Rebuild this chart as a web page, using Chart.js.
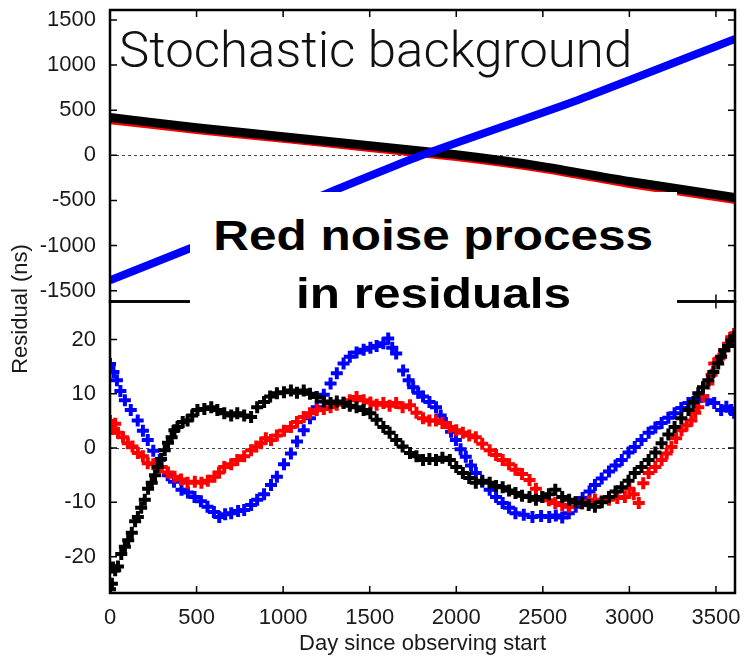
<!DOCTYPE html>
<html>
<head>
<meta charset="utf-8">
<script src="https://cdn.jsdelivr.net/npm/chart.js@4.4.1/dist/chart.umd.min.js"></script>
<style>
  body { margin: 0; background: #fff; }
  #wrap { position: relative; width: 745px; height: 657px; }
  #stoch {
    position: absolute; left: 119px; top: 25px;
    font-family: Roboto, "Liberation Sans", sans-serif; font-weight: 300;
    font-size: 50px; line-height: 1; color: #111; white-space: nowrap;
    transform: scaleX(1.02); transform-origin: left top;
  }
  #rednoise {
    position: absolute; left: 190px; top: 192px; width: 487px; height: 106px;
    padding-top: 14px;
    background: #fff; text-align: center;
    font-family: "Liberation Sans", Arial, sans-serif; font-weight: bold;
    font-size: 43px; line-height: 58px; color: #000;
  }
  #rednoise span { display: inline-block; transform: scaleX(1.15); }
</style>
</head>
<body>
<div id="wrap">
  <canvas id="residChart" width="745" height="657"></canvas>
  <div id="stoch">Stochastic background</div>
  <div id="rednoise"><span>Red noise process</span><br><span>in residuals</span></div>
</div>
<script>
// upper panel: stochastic background, smooth curves (ns)
const topDays = [0, 500, 1000, 1500, 2000, 2500, 3000, 3610];
const topBlack = [420, 305, 205, 105, 5, -125, -290, -467];
const topRed = [390, 280, 182, 82, -20, -150, -318, -495];
const blueDays = [0, 1000, 1800, 2700, 3610];
const topBlue = [-1385, -620, 0, 611, 1289];

// lower panel: red noise residuals (ns)
const lowBlackX = [0, 11, 17, 30, 46, 65, 86, 105, 126, 145, 161, 180, 201, 220, 241, 260, 276, 295, 316, 335, 356, 372, 390, 420, 448, 475, 505, 545, 585, 620, 660, 700, 735, 775, 815, 850, 890, 925, 964, 1005, 1045, 1080, 1119, 1155, 1194, 1235, 1274, 1310, 1349, 1385, 1424, 1465, 1504, 1540, 1579, 1615, 1653, 1690, 1733, 1770, 1808, 1845, 1883, 1920, 1963, 2000, 2038, 2075, 2113, 2150, 2193, 2230, 2268, 2305, 2342, 2380, 2423, 2460, 2497, 2535, 2572, 2612, 2652, 2690, 2727, 2765, 2801, 2840, 2882, 2920, 2956, 2995, 3031, 3070, 3111, 3150, 3186, 3225, 3261, 3300, 3341, 3370, 3398, 3425, 3456, 3485, 3513, 3530, 3548, 3570, 3588, 3605];
const lowBlackY = [-26, -25, -22, -22.5, -21.8, -19.5, -18.2, -17, -15.6, -13.5, -12.7, -11, -9.5, -7.5, -6.4, -5, -3.5, -2, -0.4, 1, 2, 3.3, 3.9, 4.8, 5.1, 6, 7, 7.2, 7.5, 7, 6.4, 6, 6.4, 6, 5.7, 7.5, 8.5, 9.5, 10.1, 10.3, 10.6, 10.2, 10.6, 10, 9.4, 8.6, 8.3, 8.6, 8.3, 7.8, 7.5, 7, 6.4, 5.2, 3.9, 2.8, 1.5, 0.3, -0.9, -1.5, -2.2, -2, -2.2, -1.8, -2.2, -3.5, -4.6, -5.5, -6.4, -6, -6.4, -7, -7.2, -7.8, -8.3, -8.8, -9, -9.5, -9, -8.5, -7.7, -9, -9.5, -10, -10.1, -10.5, -10.8, -10, -9, -8, -7.2, -6, -4.6, -3.5, -2.2, -0.8, 0.9, 2.5, 3.9, 5.5, 7, 8.5, 10.1, 11.2, 12.5, 14, 15.6, 16.8, 18, 18.8, 19.8, 20.5];

const lowRedX = [0, 15, 30, 46, 75, 103, 130, 161, 190, 218, 250, 299, 335, 373, 410, 448, 490, 528, 565, 603, 630, 660, 700, 735, 775, 815, 845, 873, 900, 930, 964, 1005, 1045, 1080, 1119, 1155, 1194, 1235, 1274, 1310, 1349, 1385, 1424, 1465, 1504, 1540, 1579, 1615, 1653, 1690, 1733, 1770, 1808, 1845, 1883, 1920, 1963, 2000, 2038, 2075, 2113, 2150, 2193, 2230, 2268, 2305, 2342, 2380, 2423, 2460, 2497, 2535, 2572, 2612, 2652, 2690, 2727, 2765, 2801, 2840, 2882, 2930, 2974, 3000, 3025, 3054, 3080, 3111, 3150, 3186, 3215, 3243, 3270, 3301, 3330, 3358, 3380, 3398, 3425, 3456, 3475, 3490, 3520, 3548, 3570, 3588, 3605];
const lowRedY = [5, 3.5, 4.5, 2.8, 2, 0.9, 0.3, -0.9, -1.5, -2.8, -3, -3.5, -4.5, -5.3, -5.8, -6.4, -6.2, -6.4, -6, -5.3, -4.5, -3.5, -3, -2.2, -1.5, -0.4, 0.3, 0.9, 1.8, 1.5, 2.3, 3.2, 3.9, 4.8, 5.7, 6.4, 7, 7.2, 7.5, 8, 8.4, 8.8, 9.4, 8.8, 8.4, 8, 8.3, 7.8, 8.3, 7.5, 7.9, 6.5, 5.5, 5.1, 5.1, 4.6, 3.9, 3.3, 2.8, 2.3, 2, 0.8, -0.4, -1.3, -2.2, -3, -4, -4.8, -5.9, -7.5, -9, -9.6, -10.1, -10.5, -10.8, -10, -10.2, -9.8, -9.5, -9.8, -9.5, -9.2, -9, -7.5, -8.5, -10.1, -6.5, -4.6, -3.5, -2.2, -1, 0.2, 1.8, 3.3, 4.2, 5.1, 6.5, 7.5, 9.5, 11.9, 13.5, 15.6, 16.5, 18, 19.2, 20.4, 21];

const lowBlueX = [0, 20, 40, 60, 86, 120, 160, 190, 218, 250, 287, 333, 370, 413, 450, 488, 525, 563, 600, 631, 665, 700, 740, 775, 815, 850, 890, 930, 964, 1005, 1045, 1080, 1119, 1155, 1194, 1235, 1274, 1310, 1349, 1385, 1424, 1465, 1504, 1540, 1579, 1607, 1630, 1653, 1693, 1725, 1751, 1780, 1808, 1845, 1883, 1910, 1940, 1970, 1998, 2025, 2055, 2085, 2113, 2150, 2193, 2230, 2268, 2305, 2342, 2390, 2440, 2490, 2537, 2575, 2612, 2650, 2690, 2730, 2770, 2801, 2840, 2882, 2920, 2956, 2995, 3031, 3070, 3111, 3150, 3186, 3225, 3261, 3300, 3341, 3380, 3416, 3450, 3490, 3530, 3560, 3588, 3605];
const lowBlueY = [15.5, 14, 12.5, 10.5, 8.8, 7, 5.1, 3.2, 1.5, -0.5, -2.2, -5, -6.2, -7.7, -8.2, -9, -9.8, -10.8, -11.8, -12.7, -12.2, -12, -11.6, -11.4, -10.5, -9.5, -8.5, -6.8, -5.3, -3, -1, 1.2, 3.3, 5.5, 7.5, 9.8, 11.9, 13.8, 15.6, 16.8, 17.6, 18.1, 18.5, 18.8, 19.3, 20.2, 18.5, 17.4, 14.3, 12.5, 11.2, 10.2, 9.5, 8.5, 7.5, 6, 4.6, 3, 1.5, -0.2, -1.6, -3.2, -4.6, -6.2, -7.7, -9, -10.1, -11, -12, -12.3, -12.7, -12.5, -12.7, -12.4, -12.8, -12, -10.8, -9.2, -8, -6.8, -5.6, -4.3, -3.2, -2.2, -0.8, 0.2, 1.5, 2.8, 3.8, 4.6, 5.6, 6.4, 7.4, 8.3, 9, 9.4, 8.8, 8.3, 7, 7.6, 7, 6.5];

const upperTicks = [-1500, -1000, -500, 0, 500, 1000, 1500];
const lowerTicks = [-20, -10, 0, 10, 20];
const dayTicks = [0, 500, 1000, 1500, 2000, 2500, 3000, 3500];

const BLUE = '#0000ff', RED = '#ff0000', BLACK = '#000000';
const FONT = '"Liberation Sans", Arial, sans-serif';
const tickFont = { family: FONT, size: 22 };

function pts(xs, ys) {
  return xs.map((x, i) => ({ x: x, y: ys[i] }));
}

function residSet(xs, ys, color) {
  return {
    type: 'scatter',
    data: pts(xs, ys),
    yAxisID: 'y',
    pointStyle: 'cross',
    pointRadius: 6,
    borderWidth: 4,
    borderColor: color,
    backgroundColor: color
  };
}

function curveSet(xs, ys, color, width) {
  return {
    type: 'line',
    data: pts(xs, ys),
    yAxisID: 'y2',
    borderColor: color,
    borderWidth: width,
    pointRadius: 0,
    tension: 0.2,
    fill: false
  };
}

// fixed tick positions from the tick arrays
const setTicks = list => scale => {
  scale.ticks = list.map(v => ({ value: v }));
};

// no extra room for overhanging labels, keeps the plot frame fixed
const noPad = size => scale => {
  if (scale.isHorizontal()) scale.height = size;
  else scale.width = size;
  scale.paddingLeft = 0;
  scale.paddingRight = 0;
  scale.paddingTop = 0;
  scale.paddingBottom = 0;
};

// frame, inward ticks on all sides, zero lines and y title
const framePlugin = {
  id: 'frame',
  beforeDatasetsDraw(chart) {
    const { ctx, chartArea, scales } = chart;
    ctx.save();
    ctx.strokeStyle = '#444';
    ctx.lineWidth = 1;
    ctx.setLineDash([3, 3]);
    [scales.y, scales.y2].forEach(s => {
      const py = Math.round(s.getPixelForValue(0)) + 0.5;
      ctx.beginPath();
      ctx.moveTo(chartArea.left, py);
      ctx.lineTo(chartArea.right, py);
      ctx.stroke();
    });
    ctx.restore();
  },
  afterDatasetsDraw(chart) {
    const { ctx, chartArea, scales } = chart;
    const L = chartArea.left, R = chartArea.right;
    const tl = 7;
    ctx.save();
    ctx.strokeStyle = '#000';
    ctx.lineWidth = 2.5;
    [scales.y2, scales.y].forEach(s => {
      ctx.strokeRect(L, s.top, R - L, s.bottom - s.top);
    });
    ctx.lineWidth = 1.5;
    ctx.beginPath();
    [[scales.y, lowerTicks], [scales.y2, upperTicks]].forEach(([s, ticks]) => {
      ticks.forEach(v => {
        const py = s.getPixelForValue(v);
        ctx.moveTo(L, py); ctx.lineTo(L + tl, py);
        ctx.moveTo(R, py); ctx.lineTo(R - tl, py);
      });
    });
    dayTicks.forEach(v => {
      const px = scales.x.getPixelForValue(v);
      [scales.y, scales.y2].forEach(s => {
        ctx.moveTo(px, s.bottom); ctx.lineTo(px, s.bottom - tl);
        ctx.moveTo(px, s.top); ctx.lineTo(px, s.top + tl);
      });
    });
    ctx.stroke();

    ctx.fillStyle = '#1a1a1a';
    ctx.font = '22px ' + FONT;
    ctx.textAlign = 'center';
    ctx.textBaseline = 'middle';
    ctx.translate(21, 309);
    ctx.rotate(-Math.PI / 2);
    ctx.fillText('Residual (ns)', 0, 0);
    ctx.restore();
  }
};

const yTicks = {
  font: tickFont,
  color: '#1a1a1a',
  padding: 14,
  autoSkip: false,
  callback: v => String(v)
};

const ctx = document.getElementById('residChart').getContext('2d');
new Chart(ctx, {
  data: {
    datasets: [
      residSet(lowBlackX, lowBlackY, BLACK),
      residSet(lowRedX, lowRedY, RED),
      residSet(lowBlueX, lowBlueY, BLUE),
      curveSet(blueDays, topBlue, BLUE, 8),
      curveSet(topDays, topBlack, BLACK, 9),
      curveSet(topDays, topRed, RED, 8)
    ]
  },
  options: {
    responsive: false,
    animation: false,
    devicePixelRatio: 1,
    layout: { padding: { top: 10, right: 8, left: 0, bottom: 0 } },
    plugins: {
      legend: { display: false },
      tooltip: { enabled: false }
    },
    scales: {
      x: {
        type: 'linear',
        min: 0,
        max: 3610,
        grid: { display: false, drawTicks: false },
        border: { display: false },
        afterBuildTicks: setTicks(dayTicks),
        ticks: {
          font: tickFont,
          color: '#1a1a1a',
          padding: 12,
          autoSkip: false,
          maxRotation: 0,
          callback: v => String(v)
        },
        title: {
          display: true,
          text: 'Day since observing start',
          font: { family: FONT, size: 22 },
          color: '#1a1a1a',
          padding: { top: 0, bottom: 0 }
        },
        afterFit: noPad(64)
      },
      y: {
        type: 'linear',
        position: 'left',
        stack: 'resid',
        stackWeight: 1,
        min: -26.7,
        max: 27,
        grid: { display: false, drawTicks: false },
        border: { display: false },
        afterBuildTicks: setTicks(lowerTicks),
        ticks: yTicks,
        afterFit: noPad(110)
      },
      y2: {
        type: 'linear',
        position: 'left',
        stack: 'resid',
        stackWeight: 1,
        min: -1620,
        max: 1610,
        grid: { display: false, drawTicks: false },
        border: { display: false },
        afterBuildTicks: setTicks(upperTicks),
        ticks: yTicks,
        afterFit: noPad(110)
      }
    }
  },
  plugins: [framePlugin]
});
</script>
</body>
</html>
